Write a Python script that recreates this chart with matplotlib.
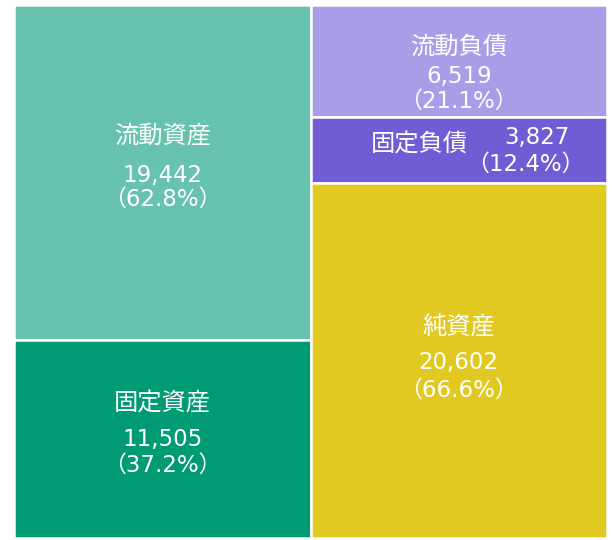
import matplotlib
matplotlib.use("Agg")
import matplotlib.pyplot as plt
from matplotlib.patches import Rectangle

plt.rcParams['font.family'] = ['Noto Sans CJK JP', 'DejaVu Sans']

# Data
asset_labels = ['流動資産', '固定資産']
asset_values = [19442, 11505]
liab_labels = ['流動負債', '固定負債', '純資産']
liab_values = [6519, 3827, 20602]
asset_colors = ['#68C3AE', '#009B72']
liab_colors = ['#AA9DE8', '#725CD6', '#E2C922']

total = sum(asset_values)

fig = plt.figure(figsize=(6.12, 5.4), dpi=100)
ax = fig.add_axes([14/612, 1-538/540, (607-14)/612, (538-5)/540])
ax.set_xlim(0, 2)
ax.set_ylim(total, 0)
ax.axis('off')

label_fs = 17.5
num_fs = 16.5
num_family = ['DejaVu Sans', 'Noto Sans CJK JP']
# text offsets (pixels): (dx_label, dy_label, dx_num, dy_num, dx_pct, dy_pct) relative to rect center; +y is up
asset_offsets = [(0, 37, 0, -3, 0, -27), (0, 35, 0, -1, 0, -26)]
liab_offsets = [(0, 14, 0, -15, 0, -40), (-39, 6, 78, 13, 67, -14), (0, 33, 0, -2, 0, -30)]

def draw_column(x0, labels, values, colors, offsets):
    y = 0
    for lab, v, c, off in zip(labels, values, colors, offsets):
        ax.add_patch(Rectangle((x0, y), 1, v, facecolor=c, edgecolor='white', linewidth=1.8))
        cx, cy = x0 + 0.5, y + v / 2
        pct = v / total * 100
        texts = [lab, f'{v:,}', f'（{pct:.1f}%）']
        for i, t in enumerate(texts):
            kw = dict(fontsize=label_fs) if i == 0 else dict(fontsize=num_fs, family=num_family)
            ax.annotate(t, (cx, cy), xytext=(off[2*i], off[2*i+1]), textcoords='offset pixels',
                        ha='center', va='center', color='white', **kw)
        y += v

draw_column(0, asset_labels, asset_values, asset_colors, asset_offsets)
draw_column(1, liab_labels, liab_values, liab_colors, liab_offsets)

fig.savefig('out.png', dpi=100, facecolor='white')
